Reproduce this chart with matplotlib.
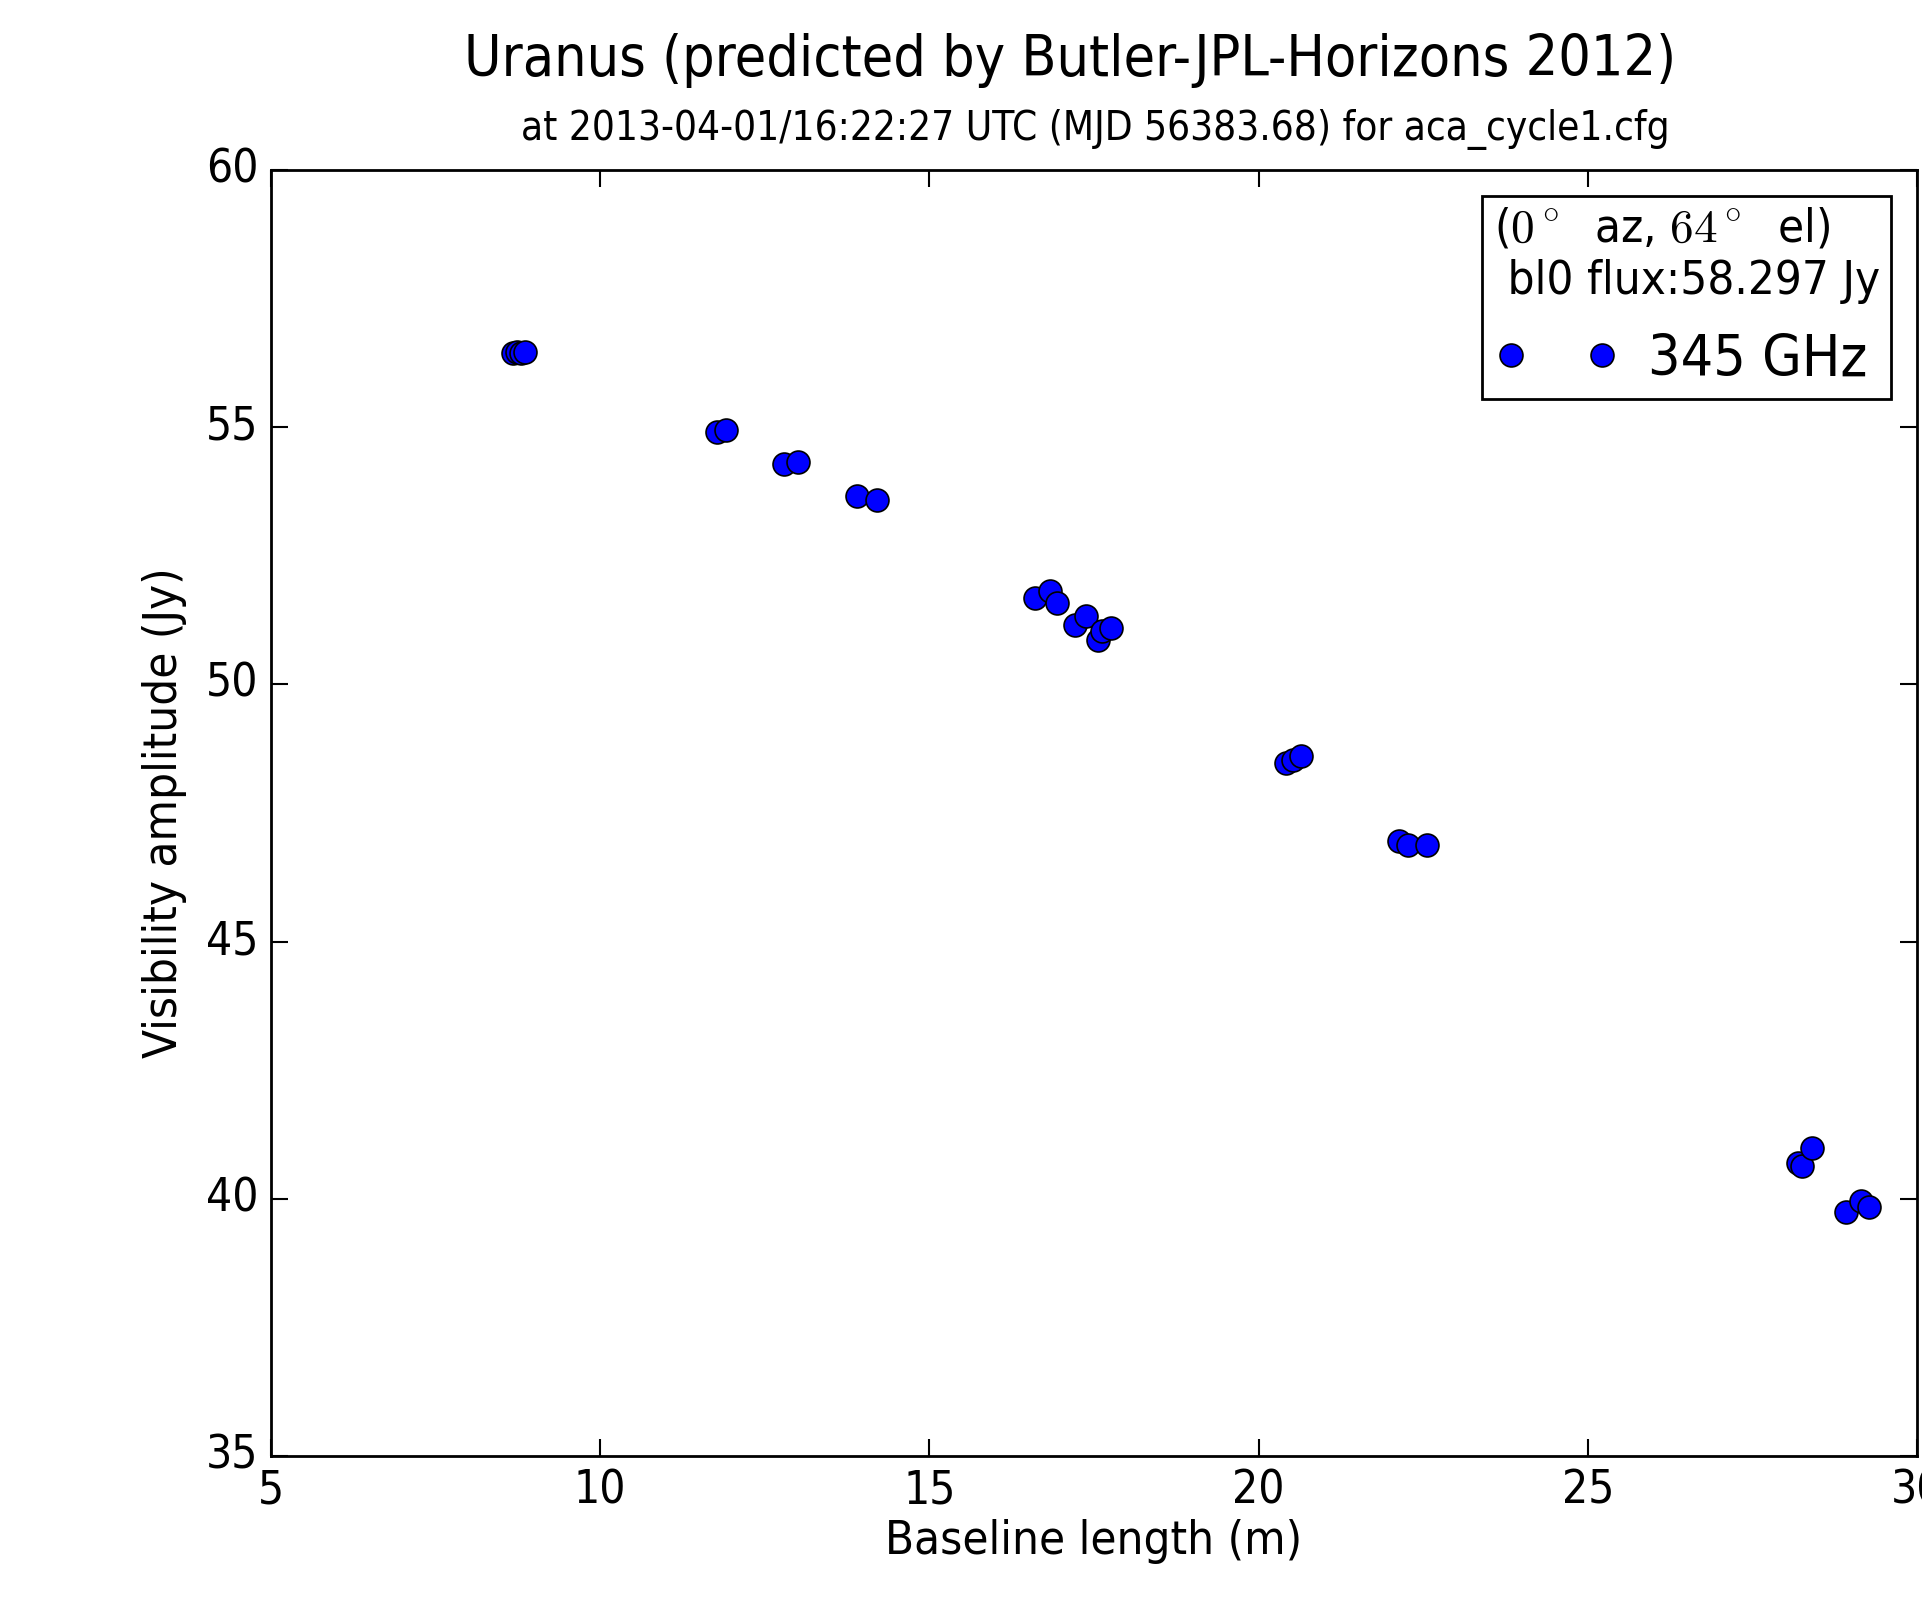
import matplotlib
matplotlib.use("Agg")
import matplotlib.pyplot as plt

plt.style.use("classic")
plt.rcParams["font.family"] = ["DejaVu Sans"]
plt.rcParams["font.stretch"] = "condensed"
plt.rcParams["mathtext.fontset"] = "cm"

# baseline length (m) and predicted visibility amplitude (Jy)
baseline = [8.68, 8.74, 8.80, 8.86,
            11.77, 11.91,
            12.79, 13.00,
            13.90, 14.20,
            16.60, 16.83, 16.94, 17.21, 17.38, 17.56, 17.62, 17.76,
            20.41, 20.52, 20.64,
            22.13, 22.27, 22.56,
            28.19, 28.26, 28.41, 28.92, 29.15, 29.27]
amplitude = [56.45, 56.47, 56.44, 56.46,
             54.90, 54.95,
             54.29, 54.32,
             53.66, 53.58,
             51.68, 51.81, 51.59, 51.16, 51.32, 50.87, 51.03, 51.10,
             48.47, 48.53, 48.60,
             46.95, 46.88, 46.88,
             40.69, 40.64, 40.99, 39.75, 39.95, 39.84]

title = "Uranus (predicted by Butler-JPL-Horizons 2012)"
subtitle = "at 2013-04-01/16:22:27 UTC (MJD 56383.68) for aca_cycle1.cfg"
legend_title = "($0^\\circ$  az, $64^\\circ$  el)\n bl0 flux:58.297 Jy"

fig = plt.figure(figsize=(19.22, 15.97), dpi=100, facecolor="white")
ax = fig.add_axes([0.141, 0.0883, 0.8564, 0.8053])

ax.plot(baseline, amplitude, "o", color="blue", markeredgecolor="black",
        markersize=16.5, markeredgewidth=1.2, label="345 GHz")

ax.set_xlim(5, 30)
ax.set_ylim(35, 60)
ax.set_xticks([5, 10, 15, 20, 25, 30])
ax.set_yticks([35, 40, 45, 50, 55, 60])
ax.tick_params(labelsize=33, length=12, width=1.5, pad=9)
for s in ax.spines.values():
    s.set_linewidth(2)

ax.set_xlabel("Baseline length (m)", fontsize=34, labelpad=4)
ax.set_ylabel("Visibility amplitude (Jy)", fontsize=34, labelpad=14)

leg = ax.legend(loc="upper right", numpoints=2, fontsize=41, title=legend_title,
                title_fontsize=34, alignment="left", borderpad=0.2,
                handletextpad=0.5, borderaxespad=0.45, handlelength=2.2)
leg.get_frame().set_linewidth(2)

fig.text(0.557, 0.962, title, fontsize=41, ha="center", va="center")
fig.text(0.570, 0.919, subtitle, fontsize=29, ha="center", va="center")

fig.savefig("out.png", dpi=100, facecolor="white")
